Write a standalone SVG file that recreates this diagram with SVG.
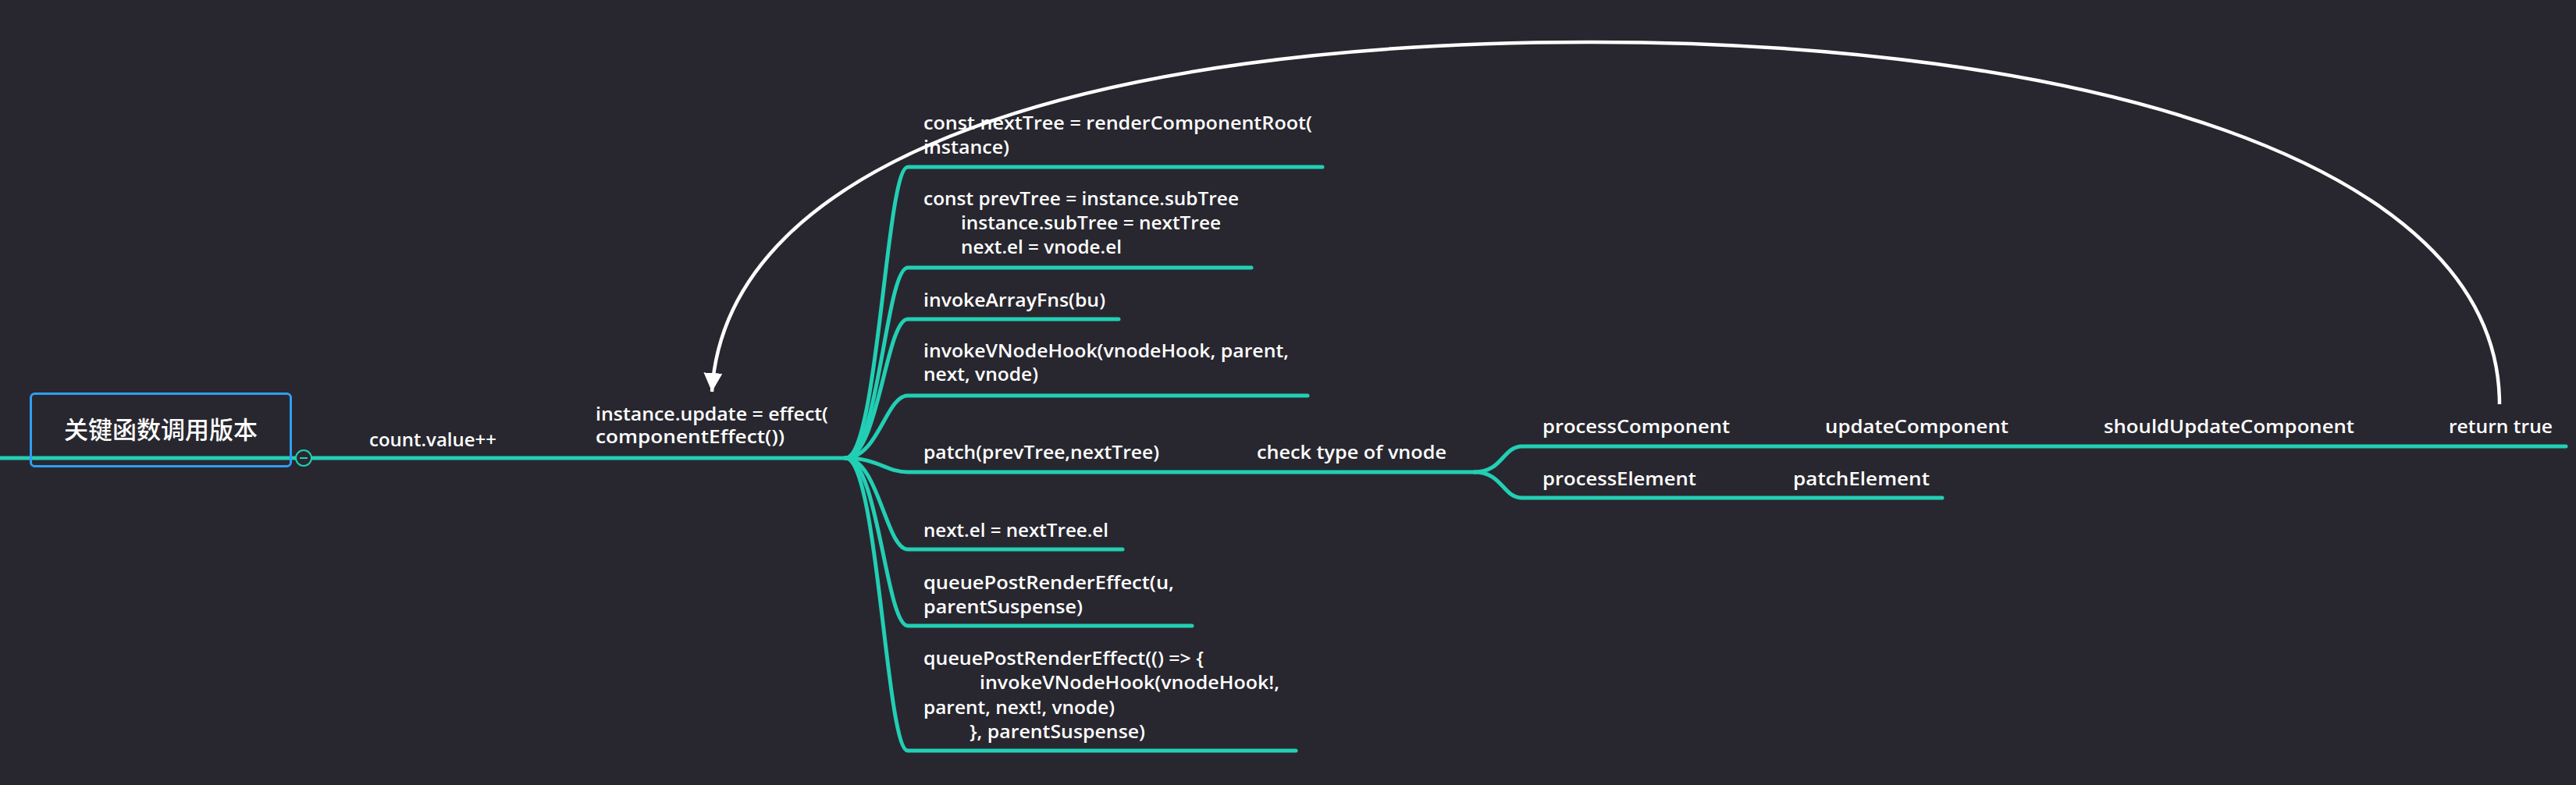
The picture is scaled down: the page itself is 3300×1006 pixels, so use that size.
<svg xmlns="http://www.w3.org/2000/svg" width="3300" height="1006" viewBox="0 0 3300 1006">
<defs>
<style>
.t{font-family:"Open Sans","Noto Sans","DejaVu Sans",sans-serif;font-size:23px;font-weight:600;fill:#ffffff}
.cn{font-family:"Noto Sans CJK SC","Noto Sans",sans-serif;font-size:31px;font-weight:500;fill:#ffffff}
.br{fill:none;stroke:#22cfb4;stroke-width:5;stroke-linecap:round}
.arc{fill:none;stroke:#ffffff;stroke-width:4.5}
</style>
<marker id="ah" markerUnits="userSpaceOnUse" markerWidth="24" markerHeight="24" refX="20" refY="10" orient="auto" viewBox="0 0 20 20">
<path d="M0,0 L20,10 L0,20 Z" fill="#ffffff"/>
</marker>
</defs>
<rect x="0" y="0" width="3300" height="1006" fill="#28272f"/>
<g id="connectors">
<path class="br" d="M0,587 L1083,587"/>
<path class="br" d="M1083,587 C1125,587 1135,214 1163,214 L1694,214"/>
<path class="br" d="M1083,587 C1125,587 1135,343 1163,343 L1603,343"/>
<path class="br" d="M1083,587 C1125,587 1135,409 1163,409 L1433,409"/>
<path class="br" d="M1083,587 C1125,587 1135,507 1163,507 L1675,507"/>
<path class="br" d="M1083,587 C1125,587 1135,605 1163,605 L1889,605"/>
<path class="br" d="M1083,587 C1125,587 1135,704 1163,704 L1438,704"/>
<path class="br" d="M1083,587 C1125,587 1135,802 1163,802 L1527,802"/>
<path class="br" d="M1083,587 C1125,587 1135,962 1163,962 L1660,962"/>
<path class="br" d="M1889,605 C1925,605 1925,572 1950,572 L3287,572"/>
<path class="br" d="M1889,605 C1925,605 1925,638 1950,638 L2488,638"/>
<path class="arc" d="M3202,518 C3202,200 2650,54 2040,54 C1400,54 930,200 912,502" marker-end="url(#ah)"/>
</g>
<g id="root">
<rect x="39.5" y="504.5" width="333" height="93" rx="5" fill="none" stroke="#2f9ef5" stroke-width="3"/>
<text class="cn" x="206" y="548" text-anchor="middle" dominant-baseline="central">关键函数调用版本</text>
<circle cx="389" cy="587" r="10" fill="#28272f" stroke="#22cfb4" stroke-width="2"/>
<path d="M384,587 L394,587" stroke="#22cfb4" stroke-width="2"/>
</g>
<g id="n-count"><text class="t" x="473" y="572" textLength="163" lengthAdjust="spacingAndGlyphs">count.value++</text></g>
<g id="n-update">
<text class="t" x="763" y="539" textLength="298" lengthAdjust="spacingAndGlyphs">instance.update = effect(</text>
<text class="t" x="763" y="568" textLength="242" lengthAdjust="spacingAndGlyphs">componentEffect())</text>
</g>
<g id="n-nexttree">
<text class="t" x="1183" y="166" textLength="498" lengthAdjust="spacingAndGlyphs">const nextTree = renderComponentRoot(</text>
<text class="t" x="1183" y="197" textLength="110" lengthAdjust="spacingAndGlyphs">instance)</text>
</g>
<g id="n-prevtree">
<text class="t" x="1183" y="263" textLength="404" lengthAdjust="spacingAndGlyphs">const prevTree = instance.subTree</text>
<text class="t" x="1231" y="294" textLength="333" lengthAdjust="spacingAndGlyphs">instance.subTree = nextTree</text>
<text class="t" x="1231" y="325" textLength="206" lengthAdjust="spacingAndGlyphs">next.el = vnode.el</text>
</g>
<g id="n-invokearray"><text class="t" x="1183" y="393" textLength="233" lengthAdjust="spacingAndGlyphs">invokeArrayFns(bu)</text></g>
<g id="n-invokehook">
<text class="t" x="1183" y="458" textLength="468" lengthAdjust="spacingAndGlyphs">invokeVNodeHook(vnodeHook, parent,</text>
<text class="t" x="1183" y="488" textLength="147" lengthAdjust="spacingAndGlyphs">next, vnode)</text>
</g>
<g id="n-patch"><text class="t" x="1183" y="588" textLength="302" lengthAdjust="spacingAndGlyphs">patch(prevTree,nextTree)</text></g>
<g id="n-check"><text class="t" x="1610" y="588" textLength="243" lengthAdjust="spacingAndGlyphs">check type of vnode</text></g>
<g id="n-nextel"><text class="t" x="1183" y="688" textLength="237" lengthAdjust="spacingAndGlyphs">next.el = nextTree.el</text></g>
<g id="n-queue1">
<text class="t" x="1183" y="755" textLength="321" lengthAdjust="spacingAndGlyphs">queuePostRenderEffect(u,</text>
<text class="t" x="1183" y="786" textLength="204" lengthAdjust="spacingAndGlyphs">parentSuspense)</text>
</g>
<g id="n-queue2">
<text class="t" x="1183" y="852" textLength="359" lengthAdjust="spacingAndGlyphs">queuePostRenderEffect(() =&gt; {</text>
<text class="t" x="1255" y="883" textLength="384" lengthAdjust="spacingAndGlyphs">invokeVNodeHook(vnodeHook!,</text>
<text class="t" x="1183" y="915" textLength="245" lengthAdjust="spacingAndGlyphs">parent, next!, vnode)</text>
<text class="t" x="1242" y="946" textLength="225" lengthAdjust="spacingAndGlyphs">}, parentSuspense)</text>
</g>
<g id="n-processcomponent"><text class="t" x="1976" y="555" textLength="240" lengthAdjust="spacingAndGlyphs">processComponent</text></g>
<g id="n-updatecomponent"><text class="t" x="2338" y="555" textLength="235" lengthAdjust="spacingAndGlyphs">updateComponent</text></g>
<g id="n-shouldupdate"><text class="t" x="2695" y="555" textLength="321" lengthAdjust="spacingAndGlyphs">shouldUpdateComponent</text></g>
<g id="n-returntrue"><text class="t" x="3137" y="555" textLength="133" lengthAdjust="spacingAndGlyphs">return true</text></g>
<g id="n-processelement"><text class="t" x="1976" y="622" textLength="197" lengthAdjust="spacingAndGlyphs">processElement</text></g>
<g id="n-patchelement"><text class="t" x="2297" y="622" textLength="175" lengthAdjust="spacingAndGlyphs">patchElement</text></g>
</svg>
